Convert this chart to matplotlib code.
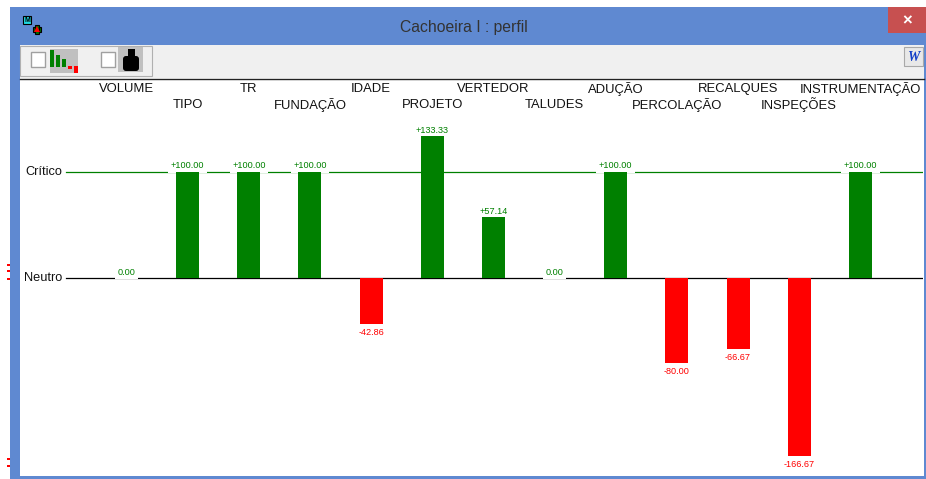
import numpy as np
import matplotlib
matplotlib.use('Agg')
import matplotlib.pyplot as plt
from matplotlib.patches import Rectangle, FancyBboxPatch, Polygon

categories = ['VOLUME', 'TIPO', 'TR', 'FUNDAÇÃO', 'IDADE', 'PROJETO', 'VERTEDOR',
              'TALUDES', 'ADUÇÃO', 'PERCOLAÇÃO', 'RECALQUES', 'INSPEÇÕES', 'INSTRUMENTAÇÃO']
values = [0.00, 100.00, 100.00, 100.00, -42.86, 133.33, 57.14,
          0.00, 100.00, -80.00, -66.67, -166.67, 100.00]
level_names = ['Crítico', 'Neutro']
level_values = [100, 0]

GREEN = '#008000'
RED = '#ff0000'
BLUE = '#5f89d1'
W, H = 926, 479

plt.rcParams['font.family'] = ['Liberation Sans', 'DejaVu Sans']
fig = plt.figure(figsize=(W / 100, H / 100), dpi=100, facecolor='white')

# window chrome, in pixel coordinates
bg = fig.add_axes([0, 0, 1, 1])
bg.set_xlim(0, W)
bg.set_ylim(H, 0)
bg.axis('off')


def box(x, y, w, h, color, **kw):
    bg.add_patch(Rectangle((x, y), w, h, facecolor=color, edgecolor=kw.pop('edge', 'none'), lw=kw.pop('lw', 0), **kw))


box(10, 7, 916, 472, BLUE)
box(20, 45, 904, 431, 'white')
box(20, 45, 904, 33, '#f0f0f0')
bg.plot([20, 924], [78.5, 78.5], color='#222222', lw=1)
box(888, 7, 38, 26, '#c75050')
bg.text(907, 21, '×', color='white', fontsize=12, fontweight='bold', ha='center', va='center')
bg.text(463.5, 27, 'Cachoeira I : perfil', color='#333333', fontsize=11.3, ha='center', va='center')

# toolbar group
box(20, 46, 132, 30, '#f0f0f0', edge='#b0b0b0', lw=0.8)
box(31, 52, 14, 15, 'white', edge='#a0a0a0', lw=1)
box(101, 52, 14, 15, 'white', edge='#a0a0a0', lw=1)
box(50, 49, 28, 24, '#c0c0c0')
box(118, 47, 25, 25, '#c0c0c0')
for x, top, bottom, c in [(50, 50, 67, GREEN), (56, 55, 67, GREEN), (62, 59, 67, GREEN),
                          (68, 66, 69, RED), (74, 66, 73, RED)]:
    box(x, top, 3.5, bottom - top, c)
bg.add_patch(FancyBboxPatch((125, 58), 12, 11, boxstyle='round,pad=2,rounding_size=3', facecolor='black', edgecolor='none'))
box(127.5, 49, 7, 7, 'black')
# W button
box(904, 47, 19, 19, '#e8e8e8', edge='#a8a8a8', lw=0.8)
bg.text(913.5, 57, 'W', color='#1440c8', fontsize=10, fontweight='bold', style='italic',
        ha='center', va='center', family='Liberation Serif')
# app icon
box(23, 16, 8, 8, '#20d8e0', edge='black', lw=0.8)
bg.text(27, 20.5, 'M', color='black', fontsize=5, fontweight='bold', ha='center', va='center')
box(33, 27, 8, 5, '#007000', edge='black', lw=0.8)
box(35, 25, 4, 9, '#007000', edge='black', lw=0.8)
bg.add_patch(Polygon([(34, 32), (37, 26), (40, 32)], closed=True, facecolor=RED, edgecolor='none'))
# stray red marks left of the window
for y in [264, 270, 278, 458, 465]:
    box(7, y, 3, 1.5, RED)

# chart
left, right, top, bottom = 20, 923, 79, 476
ax = fig.add_axes([left / W, 1 - bottom / H, (right - left) / W, (bottom - top) / H])
ax.patch.set_alpha(0)
for s in ax.spines.values():
    s.set_visible(False)
ax.set_xticks([])
ax.set_yticks([])
# 61.15 px per category with the first at x=126.5, 1.065 px per unit with 0 at y=278
ax.set_xlim((left - 126.5) / 61.15, (right - 126.5) / 61.15)
ax.set_ylim((278 - bottom) / 1.065, (278 - top) / 1.065)

trans = ax.get_yaxis_transform()
line_start = (66 - left) / (right - left)
for name, lv, c in zip(level_names, level_values, [GREEN, 'black']):
    ax.plot([line_start, 1], [lv, lv], transform=trans, color=c, lw=0.9, zorder=1)
    ax.text(line_start - 0.004, lv, name, transform=trans, ha='right', va='center',
            fontsize=9.2, color='#111111')

x = np.arange(len(values))
colors = [GREEN if v >= 0 else RED for v in values]
# bars above the label boxes so the boxes do not nibble the bar tops
ax.bar(x, values, width=23 / 61.15, color=colors, zorder=4)

for i, v in enumerate(values):
    if v >= 0:
        txt = '0.00' if v == 0 else '+%.2f' % v
        # white box reaches down over the level line, like the original
        ax.annotate(txt, (i, v), xytext=(0, 1.0), textcoords='offset points', ha='center', va='bottom',
                    fontsize=6.6, color=GREEN, zorder=3,
                    bbox=dict(facecolor='white', edgecolor='none', pad=1.8))
    else:
        ax.annotate('%.2f' % v, (i, v), xytext=(0, -3), textcoords='offset points', ha='center', va='top',
                    fontsize=6.6, color=RED, zorder=3)

# category names in two staggered rows
label_trans = ax.get_xaxis_transform()
for i, name in enumerate(categories):
    ypx = 89 if i % 2 == 0 else 105
    ax.text(i, (bottom - ypx) / (bottom - top), name, transform=label_trans, ha='center', va='center',
            fontsize=9.4, color='#111111', clip_on=False)

fig.savefig('out.png', dpi=100)
